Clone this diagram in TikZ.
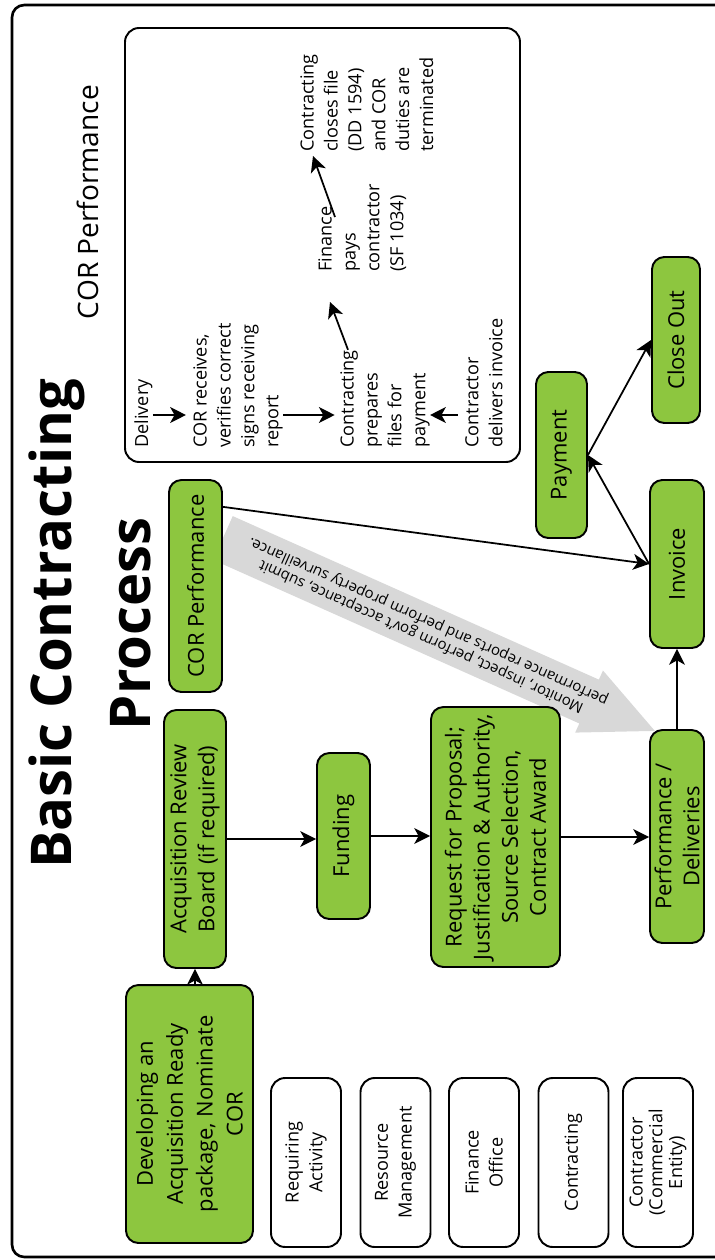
\documentclass[tikz,border=0pt]{standalone}
\usepackage{fontspec}
\setmainfont{Open Sans}
\usetikzlibrary{arrows.meta,calc,backgrounds}

\definecolor{boxgreen}{RGB}{141,198,63}
\definecolor{bandgray}{RGB}{216,216,216}

\tikzset{
  flowbox/.style={draw, line width=1.1pt, fill=boxgreen, rounded corners=7pt,
    rotate=90, align=center, inner sep=2pt, font=\fontsize{12.5}{16}\selectfont},
  rolebox/.style={draw, line width=1.1pt, fill=white, rounded corners=8pt,
    rotate=90, align=center, inner sep=2pt, minimum width=3.38cm,
    minimum height=1.4cm, font=\fontsize{10.3}{13.6}\selectfont},
  corstep/.style={rotate=90, align=left, anchor=north west, inner sep=0pt,
    font=\fontsize{10.3}{13.6}\selectfont},
  flow/.style={-{Stealth[length=9pt,width=9pt,inset=2.5pt]}, line width=1pt},
}

\begin{document}
\begin{tikzpicture}[x=0.02cm, y=-0.02cm]
\useasboundingbox (0,0) rectangle (714,1260);

% frame
\draw[line width=1.5pt, rounded corners=7pt] (716,5) -- (12,5) -- (12,1257) -- (716,1257);

% titles
\node[rotate=90, align=center, font=\fontsize{32}{45}\selectfont\bfseries] (title) at (90,624) {Basic Contracting\\Process};
\node[rotate=90, font=\fontsize{16}{19}\selectfont] (corhead) at (88,202) {COR Performance};

% COR performance steps
\draw[line width=1.1pt, rounded corners=8pt] (125,28) rectangle (520,462);
\coordinate (arow) at (0,415);
\node[corstep] (deliv) at (134,448) {Delivery};
\node[corstep] (corrcv) at (193,448) {COR receives,\\verifies correct\\signs receiving\\report};
\node[corstep] (prep) at (340,448) {Contracting\\prepares\\files for\\payment};
\node[corstep] (cdel) at (465,448) {Contractor\\delivers invoice};
\node[corstep] (fin) at (318,272) {Finance\\pays\\contractor\\(SF 1034)};
\node[corstep] (cls) at (300,152) {Contracting\\closes file\\(DD 1594)\\and COR\\duties are\\terminated};

\draw[flow] (deliv.south |- arow) -- ([xshift=-4pt]corrcv.north |- arow);
\draw[flow] (corrcv.south |- arow) -- ([xshift=-3pt]prep.north |- arow);
\draw[flow] ([xshift=-4pt]cdel.north |- arow) -- (prep.south |- arow);
\draw[flow] ($(prep.north east)+(8,0)$) -- ($(fin.north west)+(12,30)$);
\draw[flow] ($(fin.north west)+(17,-55)$) -- ($(cls.north west)+(13,4)$);

% main flow
\node[flowbox, minimum width=5.16cm, minimum height=2.54cm, font=\fontsize{12.5}{17}\selectfont] (dev) at (189.5,1114) {Developing an\\Acquisition Ready\\package, Nominate\\COR};
\node[flowbox, minimum width=5.16cm, minimum height=1.24cm] (acq) at (195,839) {Acquisition Review\\Board (if required)};
\node[flowbox, minimum width=3.32cm, minimum height=1.06cm] (fund) at (343.5,836) {Funding};
\node[flowbox, minimum width=5.2cm, minimum height=2.58cm] (rfp) at (495.5,837) {Request for Proposal;\\Justification \& Authority,\\Source Selection,\\Contract Award};
\node[flowbox, minimum width=4.26cm, minimum height=1.08cm] (perf) at (677,836.5) {Performance /\\Deliveries};
\node[flowbox, minimum width=3.36cm, minimum height=1.08cm] (inv) at (677,564) {Invoice};
\node[flowbox, minimum width=3.32cm, minimum height=1.02cm] (pay) at (561.5,455) {Payment};
\node[flowbox, minimum width=3.32cm, minimum height=0.96cm] (close) at (676,340) {Close Out};
\node[flowbox, minimum width=4.24cm, minimum height=1.06cm] (corp) at (195.5,586) {COR Performance};

% surveillance band
\coordinate (gtail) at ($(corp.south)+(0,-48)$);
\coordinate (gtip) at (perf.north east);
\begin{scope}[on background layer]
  \begin{scope}[shift={(gtail)}, rotate=-24.07]
    \fill[bandgray] (0,-24) -- (401,-24) -- (401,-34) -- (473,0) -- (401,34) -- (401,24) -- (0,24) -- cycle;
  \end{scope}
\end{scope}
\node[rotate=155.93, align=center, font=\fontsize{8.5}{9.5}\selectfont] (monitor) at ($(gtail)!0.474!(gtip)$) {Monitor, inspect, perform gov't acceptance, submit\\performance reports and perform property surveillance.};

\draw[flow] (dev.east -| acq.west) -- (acq.west);
\draw[flow] (acq.south) -- (acq.south -| fund.north);
\draw[flow] (fund.south) -- (fund.south -| rfp.north);
\draw[flow] (rfp.south) -- (rfp.south -| perf.north);
\draw[flow] (perf.east) -- (inv.west);
\draw[flow] ($(corp.south east)!0.13!(corp.south west)$) -- (inv.north);
\draw[flow] (inv.north) -- (pay.south);
\draw[flow] (pay.south) -- (close.north);

% roles
\node[rolebox] (reqact) at (306,1162.5) {Requiring\\Activity};
\node[rolebox] (resmgt) at (395.5,1162.5) {Resource\\Management};
\node[rolebox] (finoff) at (484,1162.5) {Finance\\Office};
\node[rolebox] (contr) at (573.5,1162.5) {Contracting};
\node[rolebox, font=\fontsize{10.3}{11.3}\selectfont] (vendor) at (658,1162.5) {Contractor\\(Commercial\\Entity)};

\end{tikzpicture}
\end{document}
